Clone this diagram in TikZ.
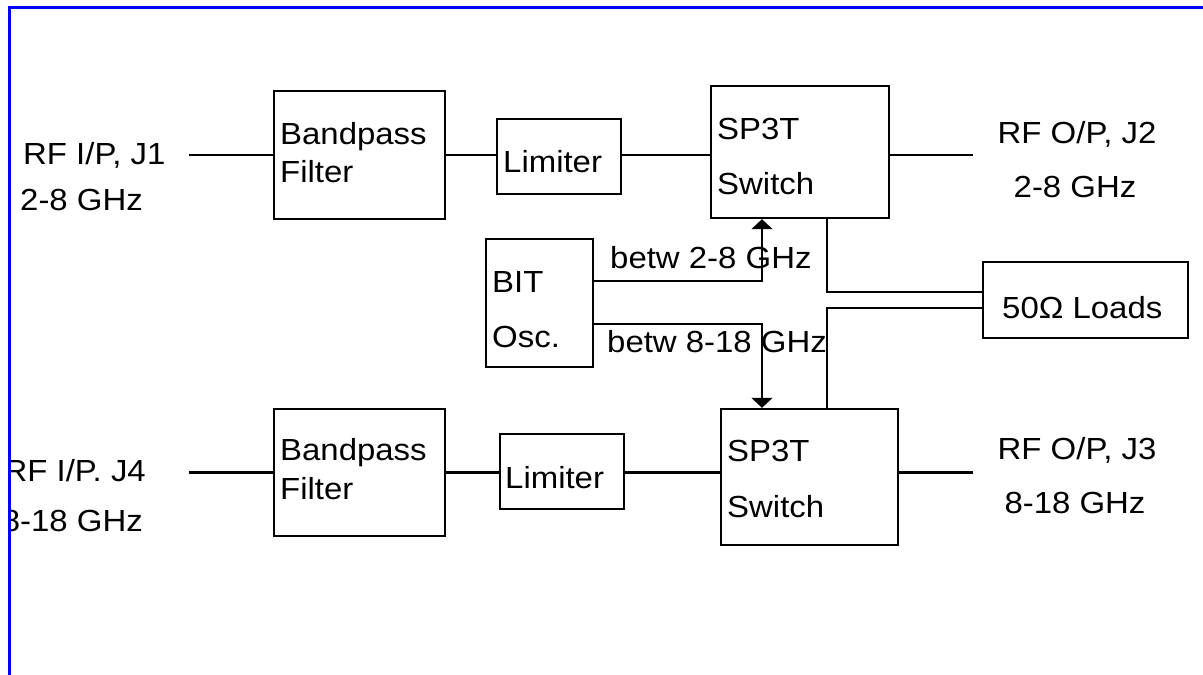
\documentclass[tikz,border=0pt]{standalone}
\usepackage{fontspec}
\setmainfont{Liberation Sans}[FakeStretch=1.08]
\usepackage{tikz}
\usetikzlibrary{arrows.meta, positioning, calc}
\definecolor{cBorder}{RGB}{0,0,255}
\tikzset{
	blk/.style  ={rectangle, draw=black, line width=2.4pt, inner sep=0pt},
	txt/.style  ={inner sep=0pt, anchor=base west},
	sig/.style  ={line width=2.1pt},
	% BIT injection arrows
	inj/.style  ={sig, -{Triangle[length=10pt, width=21pt]}},
}

\begin{document}
\begin{tikzpicture}[x=1pt, y=-1pt, font=\fontsize{30.5}{36}\selectfont]
	\useasboundingbox (0,0) rectangle (1203,675);
	% blocks
	\node[blk, minimum width=171pt, minimum height=128pt] (bpfA) at (359.5,155) {};
	\node[blk, minimum width=124pt, minimum height=75pt]  (limA) at (559,156.5) {};
	\node[blk, minimum width=178pt, minimum height=132pt] (swA)  at (800,152) {};
	\node[blk, minimum width=171pt, minimum height=127pt] (bpfB) at (359.5,472.5) {};
	\node[blk, minimum width=124pt, minimum height=75pt]  (limB) at (562,471.5) {};
	\node[blk, minimum width=177pt, minimum height=136pt] (swB)  at (809.5,477) {};
	\node[blk, minimum width=107pt, minimum height=128pt] (bit)  at (539.5,303) {};
	\node[blk, minimum width=205pt, minimum height=76pt]  (load) at (1085.5,300) {};
	% block texts
	\node[txt] (bpfAa) at (280,144) {Bandpass};
	\node[txt] (bpfAb) at (280,182) {Filter};
	\node[txt] (limAt) at (503,172) {Limiter};
	\node[txt] (swAa)  at (717,139) {SP3T};
	\node[txt] (swAb)  at (717,194) {Switch};
	\node[txt] (bpfBa) at (280,460) {Bandpass};
	\node[txt] (bpfBb) at (280,499) {Filter};
	\node[txt] (limBt) at (505,488) {Limiter};
	\node[txt] (swBa)  at (727,461) {SP3T};
	\node[txt] (swBb)  at (727,517) {Switch};
	\node[txt] (bita)  at (492,292) {BIT};
	\node[txt] (bitb)  at (492,347) {Osc.};
	\node[txt] (loadt) at (1002,318) {50Ω Loads};
	% port labels
	\node[inner sep=0pt, anchor=base] (outAa) at (1077,143) {RF O/P, J2};
	\node[inner sep=0pt, anchor=base] (outAb) at (1075,197) {2-8 GHz};
	\node[inner sep=0pt, anchor=base] (outBa) at (1077,459) {RF O/P, J3};
	\node[inner sep=0pt, anchor=base] (outBb) at (1075,513) {8-18 GHz};
	\begin{scope}
		\clip (11,0) rectangle (1203,675);
		\node[txt] (inAa) at (23,164) {RF I/P, J1};
		\node[txt] (inAb) at (20,210) {2-8 GHz};
		\node[inner sep=0pt, anchor=base east] (inBa) at (146,481) {RF I/P. J4};
		\node[inner sep=0pt, anchor=base east] (inBb) at (143,531) {8-18 GHz};
	\end{scope}
	% RF paths
	\coordinate (inA)  at (189,155);
	\coordinate (outA) at (973,155);
	\coordinate (inB)  at (189,472.5);
	\coordinate (outB) at (973,472.5);
	\draw[sig] (inA) -- (bpfA.west);
	\draw[sig] (bpfA.east) -- (bpfA.east -| limA.west);
	\draw[sig] (bpfA.east -| limA.east) -- (bpfA.east -| swA.west);
	\draw[sig] (bpfA.east -| swA.east) -- (outA);
	\draw[sig] (inB) -- (bpfB.west);
	\draw[sig] (bpfB.east) -- (bpfB.east -| limB.west);
	\draw[sig] (bpfB.east -| limB.east) -- (bpfB.east -| swB.west);
	\draw[sig] (bpfB.east -| swB.east) -- (outB);
	% BIT and loads
	\draw[inj] ([yshift=22pt]bit.east) -| ([xshift=-38pt]swA.south);
	\draw[inj] ([yshift=-21pt]bit.east) -| ([xshift=-47.5pt]swB.north);
	\node[txt] (bitA) at (610,268) {betw 2-8 GHz};
	\node[txt] (bitB) at (607,352) {betw 8-18 GHz};
	\draw[sig] ([xshift=27pt]swA.south) |- ([yshift=8pt]load.west);
	\draw[sig] ([yshift=-8pt]load.west) -| ([xshift=17.5pt]swB.north);
	% frame
	\draw[cBorder, line width=3pt] (9.8,675) -- (9.8,7.5) -- (1203,7.5);
\end{tikzpicture}
\end{document}
